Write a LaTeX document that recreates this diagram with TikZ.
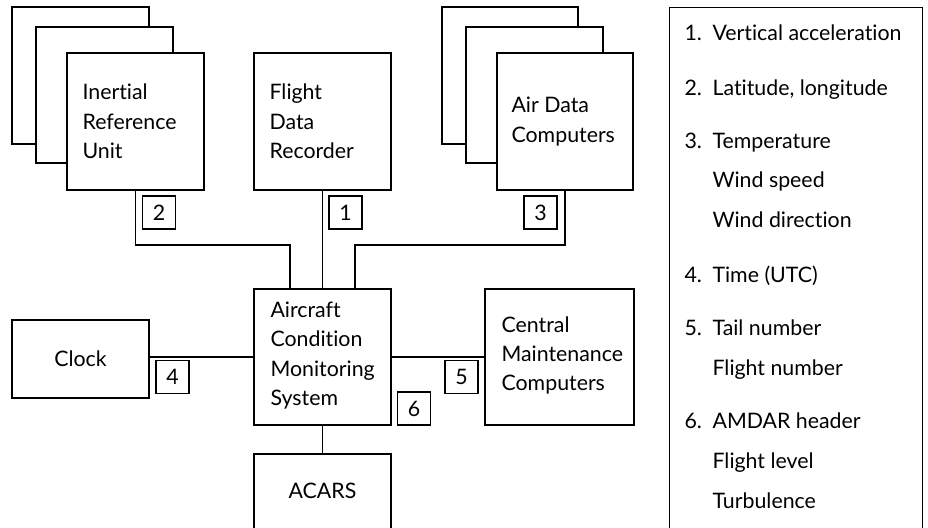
\documentclass[tikz,border=0pt]{standalone}
\usepackage{fontspec}
\setmainfont{Lato}[Ligatures={NoCommon,NoContextual}]
\begin{document}
\begin{tikzpicture}[x=0.75pt,y=-0.75pt,line width=0.85pt,
  every node/.style={font=\fontsize{16pt}{22pt}\selectfont},
  box/.style={draw, fill=white, inner sep=0pt},
  num/.style={draw, fill=white, inner sep=0pt, minimum width=24.75pt, minimum height=24.75pt},
  txt/.style={inner sep=0pt, align=left, anchor=west},
  leg/.style={inner sep=0pt, anchor=base west}]
\clip (0,0) rectangle (928,528);
\fill[white] (0,0) rectangle (928,528);
% stacked boxes: inertial reference units
\node[box, minimum width=102.75pt, minimum height=102.75pt] (irub1) at (80.5,75.5) {};
\node[box, minimum width=102.75pt, minimum height=102pt] (irub2) at (104.5,95) {};
\node[box, minimum width=102.75pt, minimum height=102.75pt] (iru) at (135.5,121.5) {};
\node[txt] (irut) at (82,121.5) {Inertial\\Reference\\Unit};
% flight data recorder
\node[box, minimum width=102.75pt, minimum height=102.75pt] (fdr) at (322.5,121.5) {};
\node[txt] (fdrt) at (269,121.5) {Flight\\Data\\Recorder};
% air data computers
\node[box, minimum width=102pt, minimum height=102.75pt] (adcb1) at (510,75.5) {};
\node[box, minimum width=102.75pt, minimum height=102pt] (adcb2) at (534.5,95) {};
\node[box, minimum width=102pt, minimum height=102.75pt] (adc) at (565,121.5) {};
\node[txt] (adct) at (511,121.5) {Air Data\\Computers};
% ACMS
\node[box, minimum width=102.75pt, minimum height=102pt] (acms) at (322.5,357) {};
\node[txt] (acmst) at (270,355.5) {Aircraft\\Condition\\Monitoring\\System};
% CMC
\node[box, minimum width=111.75pt, minimum height=102pt] (cmc) at (559.5,357) {};
\node[txt] (cmct) at (501,355.5) {Central\\Maintenance\\Computers};
% clock
\node[box, minimum width=102.75pt, minimum height=58.5pt] (clock) at (80.5,359) {Clock};
% ACARS
\node[box, minimum width=102.75pt, minimum height=102.75pt] (acars) at (322.5,522.5) {};
\node[inner sep=0pt] (acarst) at (322.5,491) {ACARS};
% number labels
\node[num] (n1) at (345.5,212.5) {1};
\node[num] (n2) at (159,212.5) {2};
\node[num] (n3) at (540.5,212.5) {3};
\node[num] (n4) at (172.5,377) {4};
\node[num] (n5) at (461.5,377) {5};
\node[num] (n6) at (414,408.5) {6};
% connectors
\coordinate (j2) at (290,245);
\coordinate (j3) at (355,245);
\draw (iru.south) |- (j2) -- (j2 |- acms.north);
\draw (fdr.south) -- (acms.north);
\draw (adc.south) |- (j3) -- (j3 |- acms.north);
\draw (clock.east |- acms.west) -- (acms.west);
\draw (acms.east) -- (cmc.west);
\draw (acms.south) -- (acars.north);
% legend
\node[box, minimum width=189.75pt, minimum height=450pt, anchor=north west] (legend) at (669,7) {};
\node[leg] (l1n) at (684,40.5) {1.};
\node[leg] (l1a) at (712,40.5) {Vertical acceleration};
\node[leg] (l2n) at (684,95.5) {2.};
\node[leg] (l2a) at (712,95.5) {Latitude, longitude};
\node[leg] (l3n) at (684,148.5) {3.};
\node[leg] (l3a) at (712,148.5) {Temperature};
\node[leg] (l3b) at (712,187.5) {Wind speed};
\node[leg] (l3c) at (712,227.5) {Wind direction};
\node[leg] (l4n) at (684,282.5) {4.};
\node[leg] (l4a) at (712,282.5) {Time (UTC)};
\node[leg] (l5n) at (684,335.5) {5.};
\node[leg] (l5a) at (712,335.5) {Tail number};
\node[leg] (l5b) at (712,375.5) {Flight number};
\node[leg] (l6n) at (684,428.5) {6.};
\node[leg] (l6a) at (712,428.5) {AMDAR header};
\node[leg] (l6b) at (712,468.5) {Flight level};
\node[leg] (l6c) at (712,508.5) {Turbulence};
\end{tikzpicture}
\end{document}
